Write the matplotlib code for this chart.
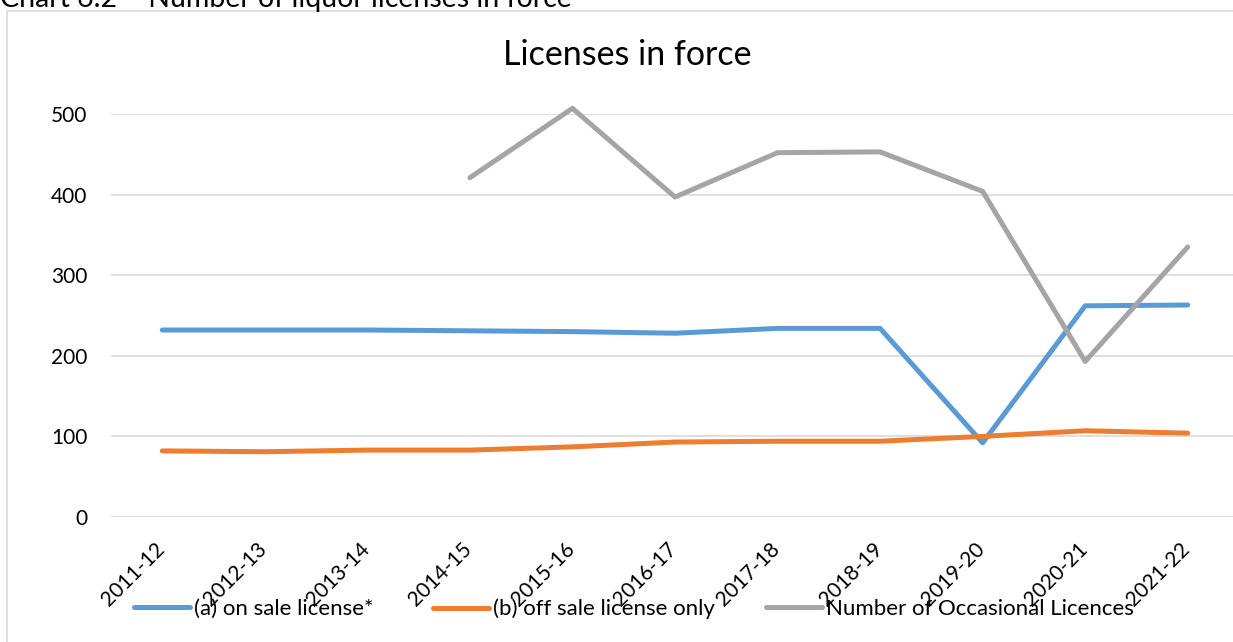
import numpy as np
import matplotlib
matplotlib.use("Agg")
import matplotlib.pyplot as plt
from matplotlib.patches import Rectangle
from matplotlib.transforms import ScaledTranslation

plt.rcParams['font.family'] = ['Lato', 'DejaVu Sans']

years = ["2011-12", "2012-13", "2013-14", "2014-15", "2015-16", "2016-17",
         "2017-18", "2018-19", "2019-20", "2020-21", "2021-22"]
on_sale = [232, 232, 232, 231, 230, 228, 234, 234, 92, 262, 263]
off_sale = [82, 81, 83, 83, 87, 93, 94, 94, 100, 107, 104]
occasional = [np.nan, np.nan, np.nan, 421, 507, 397, 452, 453, 404, 193, 335]

series_names = ["(a) on sale license*", "(b) off sale license only",
                "Number of Occasional Licences"]
colors = ["#5B9BD5", "#ED7D31", "#A5A5A5"]

W, H = 1233, 642
fig = plt.figure(figsize=(W / 100, H / 100), dpi=100)

# chart area border
fig.patches.append(Rectangle((7 / W, -0.1), 1.2, 1.1 - 11 / H,
                             transform=fig.transFigure, fill=False,
                             edgecolor="#D9D9D9", lw=1.2))

# caption (partially cut off at top)
fig.text(0.0, 1 - 7.5 / H, "Chart 6.2 \u2013 Number of liquor licenses in force",
         fontsize=20.5, va="baseline", ha="left", color="black")

left, right = 111, 1239
bottom, top = 517, 114
ax = fig.add_axes([left / W, 1 - bottom / H, (right - left) / W, (bottom - top) / H])

x = np.arange(len(years))
handles = []
for data, c, name in zip([on_sale, off_sale, occasional], colors, series_names):
    h, = ax.plot(x, data, color=c, lw=3.6, solid_capstyle="round",
                 solid_joinstyle="round", label=name, clip_on=False)
    handles.append(h)

ax.set_xlim(-0.5, len(years) - 0.5)
ax.set_ylim(0, 500)
ax.set_yticks([0, 100, 200, 300, 400, 500])
ax.yaxis.grid(True, color="#D9D9D9", lw=1.2)
ax.set_axisbelow(True)
for s in ax.spines.values():
    s.set_visible(False)
ax.tick_params(axis="both", length=0, labelsize=15, colors="black")
ax.tick_params(axis="y", pad=17)
ax.set_xticks(x)
ax.set_xticklabels(years, rotation=45, ha="right", va="top")
ax.tick_params(axis="x", pad=16)
off = ScaledTranslation(6 / 100, 0, fig.dpi_scale_trans)
for lab in ax.get_xticklabels():
    lab.set_transform(lab.get_transform() + off)

fig.text(627 / W, 1 - 55 / H, "Licenses in force", fontsize=24.5, ha="center",
         va="center")

legend_x = [134, 433, 766]
for h, lx in zip(handles, legend_x):
    fig.legend(handles=[h], loc="center left",
               bbox_to_anchor=(lx / W, 1 - 609 / H), frameon=False,
               fontsize=16, handlelength=2.5, handletextpad=0.18,
               borderpad=0, borderaxespad=0)

fig.savefig("out.png", dpi=100)
